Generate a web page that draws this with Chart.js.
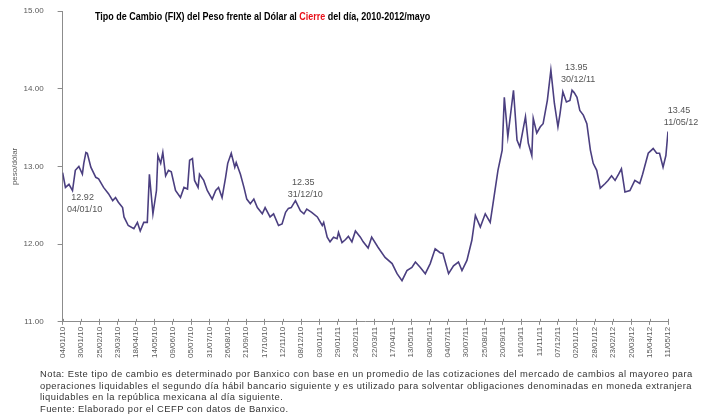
<!DOCTYPE html>
<html lang="es">
<head>
<meta charset="utf-8">
<title>Tipo de Cambio FIX</title>
<script src="https://cdn.jsdelivr.net/npm/chart.js@4.4.1/dist/chart.umd.min.js"></script>
<style>
  html, body { margin: 0; padding: 0; background: #fff; }
  #marco { position: relative; width: 705px; height: 417px; overflow: hidden; }
  #grafica { position: absolute; left: 0; top: 0; }
  #titulo {
    position: absolute; left: 95px; top: 10px;
    font: bold 10.5px "Liberation Sans", sans-serif;
    color: #000; white-space: nowrap;
    transform: scaleX(0.855); transform-origin: 0 0;
  }
  #titulo span { color: #e8101a; }
  #notas {
    position: absolute; left: 40px; top: 368px;
    font: 9.4px "Liberation Sans", sans-serif; color: #333;
    letter-spacing: 0.45px;
    line-height: 11.5px; white-space: nowrap;
  }
</style>
</head>
<body>
<div id="marco">
  <canvas id="grafica" width="705" height="417"></canvas>
  <div id="titulo">Tipo de Cambio (FIX) del Peso frente al Dólar al <span>Cierre</span> del día, 2010-2012/mayo</div>
  <div id="notas">
    <div>Nota: Este tipo de cambio es determinado por Banxico con base en un promedio de las cotizaciones del mercado de cambios al mayoreo para</div>
    <div>operaciones liquidables el segundo día hábil bancario siguiente y es utilizado para solventar obligaciones denominadas en moneda extranjera</div>
    <div>liquidables en la república mexicana al día siguiente.</div>
    <div>Fuente: Elaborado por el CEFP con datos de Banxico.</div>
  </div>
</div>
<script>
// Días transcurridos desde el 04/01/10 y tipo de cambio FIX (pesos por dólar)
const dias = [
  0, 4, 9, 14, 18, 23, 28, 30, 33, 35, 40, 47, 51, 58, 65, 71, 75, 79, 85, 87,
  93, 101, 106, 110, 115, 120, 123, 128, 133, 135, 139, 142, 146, 150, 154, 160, 167, 172, 177, 180,
  184, 187, 192, 194, 200, 205, 212, 217, 221, 226, 231, 234, 239, 244, 246, 252, 257, 261, 266, 271,
  276, 283, 287, 294, 299, 306, 311, 316, 320, 324, 330, 337, 342, 346, 353, 361, 368, 370, 375, 379,
  384, 389, 391, 396, 401, 405, 410, 415, 422, 426, 433, 438, 447, 457, 467, 474, 481, 488, 495, 500,
  507, 514, 521, 528, 535, 539, 547, 554, 561, 566, 573, 580, 585, 592, 599, 606, 610, 617, 623, 626,
  631, 639, 644, 648, 656, 660, 665, 667, 672, 677, 681, 687, 692, 697, 702, 705, 709, 714, 719, 722,
  725, 729, 733, 738, 743, 748, 752, 757, 762, 769, 773, 778, 783, 788, 792, 797, 804, 811, 818, 822,
  830, 837, 842, 846, 851, 855, 858
];
const tipoCambio = [
  12.92, 12.73, 12.77, 12.69, 12.95, 13.00, 12.90, 13.04, 13.18, 13.17, 12.99, 12.86, 12.84, 12.73, 12.65, 12.56, 12.60, 12.54, 12.47, 12.35,
  12.24, 12.20, 12.28, 12.17, 12.28, 12.28, 12.90, 12.39, 12.69, 13.14, 13.04, 13.18, 12.88, 12.95, 12.93, 12.69, 12.60, 12.73, 12.71, 13.08,
  13.10, 12.82, 12.73, 12.90, 12.82, 12.69, 12.58, 12.69, 12.73, 12.60, 12.86, 13.04, 13.17, 12.99, 13.05, 12.90, 12.73, 12.58, 12.52, 12.58,
  12.47, 12.39, 12.47, 12.35, 12.39, 12.24, 12.26, 12.41, 12.46, 12.47, 12.56, 12.43, 12.39, 12.45, 12.41, 12.35, 12.24, 12.28, 12.09, 12.03,
  12.09, 12.07, 12.15, 12.02, 12.06, 12.10, 12.03, 12.17, 12.09, 12.03, 11.95, 12.09, 11.96, 11.83, 11.75, 11.62, 11.53, 11.66, 11.70, 11.77,
  11.70, 11.62, 11.75, 11.94, 11.89, 11.88, 11.62, 11.72, 11.77, 11.66, 11.79, 12.05, 12.37, 12.22, 12.39, 12.28, 12.52, 12.95, 13.21, 13.89,
  13.38, 13.98, 13.34, 13.25, 13.64, 13.30, 13.14, 13.62, 13.43, 13.51, 13.55, 13.85, 14.24, 13.81, 13.51, 13.68, 13.96, 13.83, 13.85, 13.98,
  13.95, 13.89, 13.72, 13.66, 13.55, 13.21, 13.04, 12.95, 12.72, 12.78, 12.82, 12.88, 12.82, 12.90, 12.97, 12.67, 12.69, 12.82, 12.78, 12.90,
  13.17, 13.23, 13.17, 13.17, 12.99, 13.14, 13.45
];

// Etiquetas del eje horizontal, una cada 26 días
const etiquetasFecha = [
  '04/01/10', '30/01/10', '25/02/10', '23/03/10', '18/04/10', '14/05/10', '09/06/10', '05/07/10', '31/07/10',
  '26/08/10', '21/09/10', '17/10/10', '12/11/10', '08/12/10', '03/01/11', '29/01/11', '24/02/11', '22/03/11',
  '17/04/11', '13/05/11', '08/06/11', '04/07/11', '30/07/11', '25/08/11', '20/09/11', '16/10/11', '11/11/11',
  '07/12/11', '02/01/12', '28/01/12', '23/02/12', '20/03/12', '15/04/12', '11/05/12'
];

// Puntos con etiqueta de valor y fecha
const etiquetasPunto = [
  { dia: 0, fecha: '04/01/10', dx: 20, dy: 25 },
  { dia: 361, fecha: '31/12/10', dx: -14, dy: -34 },
  { dia: 725, fecha: '30/12/11', dx: 2, dy: -25 },
  { dia: 858, fecha: '11/05/12', dx: 11, dy: -21 }
];

var puntos = dias.map(function(d, i) {
  return { x: d, y: tipoCambio[i] };
});

// Dibuja las etiquetas de los puntos destacados
const pluginEtiquetas = {
  id: 'etiquetas',
  afterDatasetsDraw(chart) {
    var ctx = chart.ctx;
    var xs = chart.scales.x;
    var ys = chart.scales.y;
    ctx.save();
    ctx.font = '9px "Liberation Sans", sans-serif';
    ctx.fillStyle = '#555';
    ctx.textAlign = 'center';
    ctx.textBaseline = 'middle';
    etiquetasPunto.forEach(function(e) {
      var i = dias.indexOf(e.dia);
      var px = xs.getPixelForValue(e.dia);
      var py = ys.getPixelForValue(tipoCambio[i]);
      ctx.fillText(tipoCambio[i].toFixed(2), px + e.dx, py + e.dy);
      ctx.fillText(e.fecha, px + e.dx + 2, py + e.dy + 12);
    });
    ctx.restore();
  }
};

// Marcas cortas hacia dentro en el eje horizontal
const pluginMarcas = {
  id: 'marcas',
  afterDraw(chart) {
    var ctx = chart.ctx;
    var xs = chart.scales.x;
    var base = chart.chartArea.bottom;
    ctx.save();
    ctx.strokeStyle = '#8c8c8c';
    ctx.lineWidth = 1;
    xs.ticks.forEach(function(t) {
      var px = Math.round(xs.getPixelForValue(t.value)) + 0.5;
      ctx.beginPath();
      ctx.moveTo(px, base - 3);
      ctx.lineTo(px, base);
      ctx.stroke();
    });
    ctx.restore();
  }
};

var ctx = document.getElementById('grafica').getContext('2d');
var chart = new Chart(ctx, {
  type: 'line',
  data: {
    datasets: [{
      label: 'Tipo de cambio FIX',
      data: puntos,
      borderColor: '#4b3f80',
      borderWidth: 1.6,
      pointRadius: 0,
      tension: 0,
      fill: false
    }]
  },
  options: {
    responsive: false,
    animation: false,
    layout: { padding: { left: 7, right: 37, top: 11, bottom: 57 } },
    plugins: {
      legend: { display: false },
      tooltip: { enabled: false }
    },
    scales: {
      x: {
        type: 'linear',
        min: 0,
        max: 858,
        grid: { drawOnChartArea: false, tickLength: 3, color: '#8c8c8c' },
        border: { color: '#8c8c8c', width: 1 },
        ticks: {
          stepSize: 26,
          autoSkip: false,
          maxRotation: 90,
          minRotation: 90,
          padding: 2,
          color: '#595959',
          font: { size: 8, family: '"Liberation Sans", sans-serif' },
          callback: function(value, index) {
            return etiquetasFecha[index];
          }
        }
      },
      y: {
        min: 11,
        max: 15,
        grid: { drawOnChartArea: false, tickLength: 5, color: '#8c8c8c' },
        border: { color: '#8c8c8c', width: 1 },
        title: {
          display: true,
          text: 'peso/dólar',
          color: '#595959',
          font: { size: 8, family: '"Liberation Sans", sans-serif' },
          padding: { top: 3, bottom: 2 }
        },
        ticks: {
          stepSize: 1,
          padding: 2,
          color: '#595959',
          font: { size: 8, family: '"Liberation Sans", sans-serif' },
          callback: function(value) {
            // espacios al final para separar la etiqueta del eje
            return value.toFixed(2) + '\u2002\u2002\u2002';
          }
        }
      }
    }
  },
  plugins: [pluginEtiquetas, pluginMarcas]
});
</script>
</body>
</html>
